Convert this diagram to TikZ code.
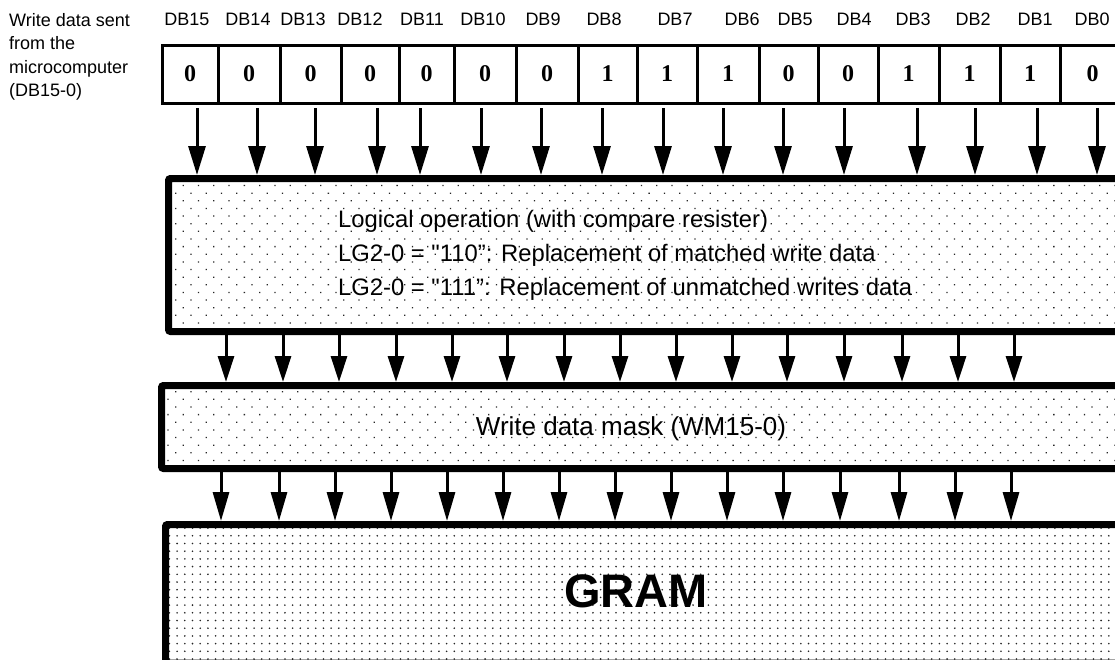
\documentclass[tikz,border=0pt]{standalone}
\usepackage{fontspec}
\setmainfont{Liberation Sans}[Ligatures=TeXOff]
\newfontfamily\serifb{Liberation Serif}
\usetikzlibrary{arrows.meta,patterns.meta}
\begin{document}
\begin{tikzpicture}[x=1pt,y=-1pt,
  cell/.style={draw, line width=3pt, rectangle, inner sep=0pt, minimum height=58pt,
    font=\serifb\bfseries\fontsize{24}{24}\selectfont},
  blk/.style={draw, line width=7pt, rectangle, rounded corners=2pt, inner sep=0pt},
  sparse/.style={pattern={Dots[distance=10.8pt,angle=45,radius=0.9pt]}, pattern color=black!85},
  dense/.style={pattern={Dots[distance=7.7pt,radius=0.9pt]}, pattern color=black!85},
  arr/.style={line width=3pt, -{Triangle[width=17pt,length=29pt]}},
  lbl/.style={font=\fontsize{18}{18}\selectfont, anchor=base, inner sep=0pt},
]
\useasboundingbox (0,0) rectangle (1115,659);
\clip (0,0) rectangle (1115,659);

% left caption
\node[anchor=north west, align=left, inner sep=0pt, font=\fontsize{18}{23.5}\selectfont] (cap) at (9,13)
  {Write data sent\\from the\\microcomputer\\(DB15-0)};

% bit labels
\foreach \x/\n in {187/15,248/14,303/13,360/12,422/11,483/10,543/9,604/8,675/7,742/6,795/5,854/4,913/3,973/2,1035/1,1092/0}
  \node[lbl] (l\n) at (\x,25) {DB\n};

% bit cells
\foreach \l/\r/\v/\n in {162/218/0/15,218/280/0/14,280/341/0/13,341/399/0/12,399/454/0/11,454/516/0/10,516/578/0/9,578/637/1/8,637/697/1/7,697/759/1/6,759/818/0/5,818/878/0/4,878/939/1/3,939/1000/1/2,1000/1060/1/1,1060/1125/0/0}
  \node[cell, minimum width={(\r-\l)*1pt}] (b\n) at ({(\l+\r)/2},74.4) {\raisebox{2.5pt}{\v}};

% blocks
\node[blk, sparse, minimum width=971.5pt, minimum height=153pt] (logic) at (654.25,255) {};
\node[blk, sparse, minimum width=978.5pt, minimum height=83pt] (mask) at (650.75,427) {};
\node[blk, dense, minimum width=974.5pt, minimum height=138.5pt] (gram) at (652.75,593.75) {};

% block texts
\node[anchor=north west, align=left, inner sep=0pt, font=\fontsize{23.8}{34}\selectfont] (ltext) at (338,209.6)
  {Logical operation (with compare resister)\\LG2-0 = "110”: Replacement of matched write data\\LG2-0 = "111”: Replacement of unmatched writes data};
\node[anchor=base, inner sep=0pt, font=\fontsize{26}{26}\selectfont] (mtext) at (631,435) {Write data mask (WM15-0)};
\node[anchor=base, inner sep=0pt, font=\bfseries\fontsize{47}{47}\selectfont] (gtext) at (636,607) {GRAM};

% arrows: bits -> logic
\foreach \x [count=\i] in {197,257,315,377,420,481,541,602,663,723,783,844,917,975,1037,1097} {
  \coordinate (t\i) at (\x,108);
  \draw[arr] (t\i) -- (t\i |- logic.north);
}
% arrows: logic -> mask
\foreach \x [count=\i] in {226,283,339,396,452,507,564,620,676,732,787,844,902,958,1014} {
  \coordinate (m\i) at (\x,0);
  \draw[arr, -{Triangle[width=16pt,length=26pt]}] (m\i |- logic.south) -- (m\i |- mask.north);
}
% arrows: mask -> gram
\foreach \x [count=\i] in {221,279,335,391,447,503,559,615,671,727,783,840,899,955,1011} {
  \coordinate (g\i) at (\x,0);
  \draw[arr, -{Triangle[width=16pt,length=29pt]}] (g\i |- mask.south) -- (g\i |- gram.north);
}
\end{tikzpicture}
\end{document}
